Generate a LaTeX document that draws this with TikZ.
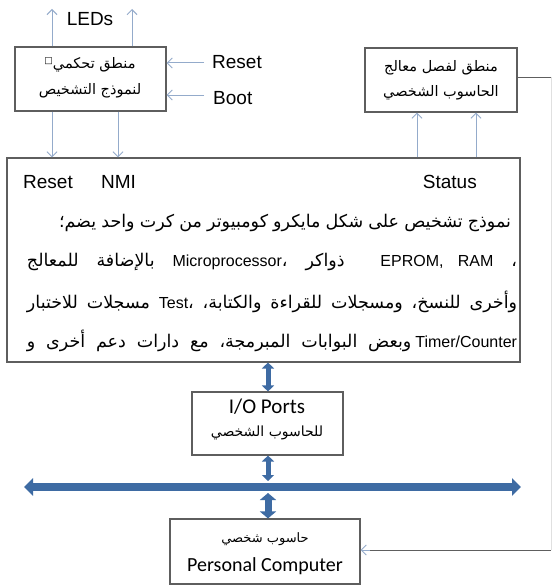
\documentclass[tikz,border=0pt]{standalone}
\usepackage{fontspec}
\setmainfont{Liberation Sans}
\newfontfamily\arab[Script=Arabic]{DejaVu Sans}
\newfontfamily\lat{Liberation Sans}
\newfontfamily\calib{Carlito}
\TeXXeTstate=1
\usetikzlibrary{arrows.meta}
\definecolor{boxline}{HTML}{5E5E5E}
\definecolor{thinblue}{HTML}{94ABCB}
\definecolor{busblue}{HTML}{3E6BA3}
\tikzset{
  box/.style={draw=boxline, line width=1.1pt, inner sep=0pt},
  lbl/.style={inner sep=0pt, font=\lat\fontsize{19}{21}\selectfont},
  boxar/.style={inner sep=0pt, font=\arab\fontsize{14.5}{17}\selectfont},
  arline/.style={inner sep=0pt, font=\arab\fontsize{17.5}{19}\selectfont},
  thinarrow/.style={draw=thinblue, line width=1pt, -{Straight Barb[length=5pt,width=10pt]}},
  plainline/.style={draw=boxline, line width=1pt},
  fatarrow/.style={draw=busblue, line width=5pt, {Triangle[length=6pt,width=12pt]}-{Triangle[length=6pt,width=12pt]}},
  fatarrowb/.style={draw=busblue, line width=7pt, {Triangle[length=7pt,width=16pt]}-{Triangle[length=7pt,width=16pt]}},
  busarrow/.style={draw=busblue, line width=8pt, {Triangle[length=9pt,width=17pt]}-{Triangle[length=9pt,width=17pt]}}
}
\newcommand{\lw}[1]{{\lat\fontsize{16}{18}\selectfont #1}}
\begin{document}
\begin{tikzpicture}[x=1pt,y=-1pt]
\useasboundingbox[fill=white] (0,0) rectangle (553,586);

% boxes
\node[box, minimum width=151pt, minimum height=64pt] (ctl) at (90.5,79) {};
\node[box, minimum width=152pt, minimum height=64pt] (sep) at (441,80) {};
\node[box, minimum width=513pt, minimum height=204pt] (main) at (263.5,260) {};
\node[box, minimum width=151pt, minimum height=63pt] (io) at (267.5,423.5) {};
\node[box, minimum width=190pt, minimum height=65pt] (pc) at (265,551.5) {};

% box texts
\node[boxar] (ctl1) at (90,65) {\beginR منطق تحكمي{\fontsize{9}{9}\selectfont\raisebox{5pt}{□}}\endR};
\node[boxar] (ctl2) at (90,91) {\beginR لنموذج التشخيص\endR};
\node[boxar] (sep1) at (441,68) {\beginR منطق لفصل معالج\endR};
\node[boxar] (sep2) at (441,93) {\beginR الحاسوب الشخصي\endR};
\node[inner sep=0pt, font=\calib\fontsize{21}{23}\selectfont] (io1) at (267,407) {I/O Ports};
\node[inner sep=0pt, font=\arab\fontsize{14}{16}\selectfont] (io2) at (267,433) {\beginR للحاسوب الشخصي\endR};
\node[inner sep=0pt, font=\arab\fontsize{13}{15}\selectfont] (pc1) at (265,539) {\beginR حاسوب شخصي\endR};
\node[inner sep=0pt, font=\calib\fontsize{20}{22}\selectfont] (pc2) at (265,566) {Personal Computer};

% outside labels
\node[lbl] (leds) at (90,19) {LEDs};
\node[lbl, anchor=west] (rst) at (212,62) {Reset};
\node[lbl, anchor=west] (boot) at (213,98) {Boot};

% labels inside main box
\node[lbl, anchor=west] (mreset) at (23,182) {Reset};
\node[lbl, anchor=west] (mnmi) at (101,182) {NMI};
\node[lbl, anchor=east] (mstatus) at (477,182) {Status};

\node[arline] (l1) at (285,223) {\hbox to 452pt{\beginR نموذج تشخيص على شكل مايكرو كومبيوتر من كرت واحد يضم؛\endR}};
\node[arline] (l2) at (272,262) {\hbox to 490pt{\beginR بالإضافة للمعالج\endR\ \lw{Microprocessor}، \beginR ذواكر\endR\ \ \lw{EPROM, RAM} ،}};
\node[arline] (l3) at (272,302) {\hbox to 490pt{\beginR مسجلات للاختبار\endR\ \lw{Test}، \beginR وأخرى للنسخ، ومسجلات للقراءة والكتابة،\endR}};
\node[arline] (l4) at (272,341) {\hbox to 490pt{\beginR وبعض البوابات المبرمجة، مع دارات دعم أخرى و\endR\kern4pt\lw{Timer/Counter}}};

% coordinates
\coordinate (led1) at (52,9);
\coordinate (led2) at (132,9);
\coordinate (rsts) at (204,63);
\coordinate (boots) at (204,95);
\coordinate (d1) at (52,0);
\coordinate (d2) at (118,0);
\coordinate (u1) at (417,0);
\coordinate (u2) at (476,0);
\coordinate (rt) at (551,77);
\coordinate (rb) at (551,550);
\coordinate (ax) at (268,0);
\coordinate (busL) at (24,487);
\coordinate (busR) at (521,487);
\coordinate (bustop) at (268,481);
\coordinate (busbot) at (268,493);

% thin connectors
\draw[thinarrow] (ctl.north -| led1) -- (led1);
\draw[thinarrow] (ctl.north -| led2) -- (led2);
\draw[thinarrow] (rsts) -- (rsts -| ctl.east);
\draw[thinarrow] (boots) -- (boots -| ctl.east);
\draw[thinarrow] (ctl.south -| d1) -- (main.north -| d1);
\draw[thinarrow] (ctl.south -| d2) -- (main.north -| d2);
\draw[thinarrow] (main.north -| u1) -- (sep.south -| u1);
\draw[thinarrow] (main.north -| u2) -- (sep.south -| u2);
\draw[plainline] (sep.east |- rt) -- (rt);
\draw[draw=black!12, line width=1pt] (rt) -- (rb);
\draw[plainline] (rb) -- ([xshift=8pt]rb -| pc.east);
\draw[thinarrow] ([xshift=9pt]rb -| pc.east) -- (rb -| pc.east);

% fat connectors
\draw[fatarrow] (main.south -| ax) -- (io.north -| ax);
\draw[fatarrow] (io.south -| ax) -- (bustop);
\draw[busarrow] (busL) -- (busR);
\draw[fatarrowb] (busbot) -- (pc.north -| ax);
\end{tikzpicture}
\end{document}
